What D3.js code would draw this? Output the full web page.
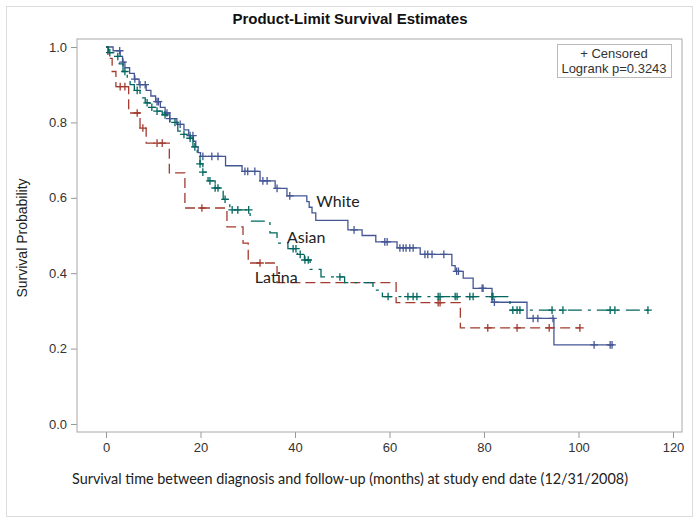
<!DOCTYPE html>
<html>
<head>
<meta charset="utf-8">
<script src="https://cdn.jsdelivr.net/npm/d3@7"></script>
<style>
  body { margin: 0; background: #fff; }
  svg text { fill: #333; }
</style>
</head>
<body>
<svg id="chart" width="700" height="524"></svg>
<script>
// ---- data (months, survival probability) ----
const whiteSteps = [
  [0, 1.0], [1.5, 0.99], [3, 0.975], [3.5, 0.96], [4, 0.945], [5, 0.93], [6, 0.915],
  [7, 0.9], [8.5, 0.885], [9.5, 0.87], [10.5, 0.855], [11.5, 0.84], [12.5, 0.825],
  [13.5, 0.81], [15, 0.795], [16.5, 0.78], [17.5, 0.765], [18.5, 0.75], [19, 0.735],
  [19.5, 0.72], [20, 0.71], [25.3, 0.685], [28.8, 0.67], [32.6, 0.645], [35.8, 0.625],
  [38.3, 0.605], [42.5, 0.59], [43, 0.575], [43.6, 0.56], [44.4, 0.54], [51.2, 0.515],
  [54.2, 0.5], [57.1, 0.483], [61.6, 0.467], [66.5, 0.45], [73.2, 0.42], [73.9, 0.405],
  [75.6, 0.387], [77.7, 0.36], [81.7, 0.323], [89.1, 0.28], [94.8, 0.21]
];
const whiteCensored = [
  2.9, 3.6, 6.1, 7.2, 8.3, 10.8, 11.1, 12.9, 13.5, 15.7, 17.8, 18.4, 20.5, 22.4, 23.7,
  29.4, 30, 31.5, 33.2, 34.1, 36.2, 38.9, 52.5, 59, 59.5, 62.2, 62.9, 63.5, 64.3, 65,
  67.5, 68.1, 69, 71.5, 74.2, 74.6, 79.6, 79.8, 82.2, 90.4, 91.4, 94.6, 103.3, 106.7, 107.1
];

const asianSteps = [
  [0, 1.0], [0.5, 0.985], [1.9, 0.975], [2.8, 0.955], [3.6, 0.935], [4.5, 0.915],
  [5.1, 0.9], [6, 0.885], [7.2, 0.865], [8.3, 0.852], [9.3, 0.84], [10.5, 0.83],
  [11.9, 0.82], [13.5, 0.8], [15.2, 0.777], [16.2, 0.768], [17.1, 0.758], [18.4, 0.735],
  [19.3, 0.71], [19.9, 0.69], [20.5, 0.668], [21.6, 0.645], [23.1, 0.626], [24.8, 0.596],
  [26.2, 0.568], [30.5, 0.538], [34.7, 0.507], [36.2, 0.48], [38.5, 0.465], [40.5, 0.45],
  [42, 0.435], [43.2, 0.41], [45.5, 0.39], [50.5, 0.375], [56.5, 0.355], [58.5, 0.338],
  [85.5, 0.302]
];
const asianCensored = [
  0.8, 2.5, 4, 6.6, 8.7, 9.7, 10.8, 12.5, 14.6, 16.5, 17.8, 18.8, 19.9, 20.5, 22, 23.1,
  23.7, 25.2, 26.7, 27.9, 30.2, 39.6, 40.2, 41.1, 42.1, 42.8, 49.5, 59.7, 63.9, 65, 65.8,
  70.3, 70.7, 73.9, 74.3, 77, 77.7, 81.7, 81.9, 86.1, 87, 87.6, 94.4, 96.7, 106.7, 107.7, 114.7
];

const latinaSteps = [
  [0, 1.0], [0.4, 0.97], [1.3, 0.935], [2.1, 0.895], [4.8, 0.825], [7.2, 0.785],
  [8.5, 0.745], [13.4, 0.666], [16.7, 0.573], [25.6, 0.523], [29, 0.48], [30.1, 0.427],
  [36.2, 0.375], [61.4, 0.322], [75, 0.255]
];
const latinaCensored = [3, 4, 6.6, 7.8, 10.8, 11.9, 20.3, 32.6, 70.3, 70.7, 80.8, 87, 93.8, 100.3];

const xTicks = [0, 20, 40, 60, 80, 100, 120];
const yTicks = [0.0, 0.2, 0.4, 0.6, 0.8, 1.0];

const groups = [
  { name: 'White',  steps: whiteSteps,  censored: whiteCensored,  color: '#445694', dash: null,
    label: [44.5, 0.576] },
  { name: 'Latina', steps: latinaSteps, censored: latinaCensored, color: '#A23A2E', dash: '10,5',
    label: [31.5, 0.374] },
  { name: 'Asian',  steps: asianSteps,  censored: asianCensored,  color: '#01665E', dash: '14,6,3,6',
    label: [38.3, 0.48] }
];

// ---- layout ----
const svg = d3.select('#chart');
const frame = { left: 77, right: 682, top: 39, bottom: 432 };

const x = d3.scaleLinear().domain([0, 120]).range([106, 673]);
const y = d3.scaleLinear().domain([0, 1]).range([424, 47]);

svg.append('rect')
  .attr('x', 6.5).attr('y', 6.5).attr('width', 686).attr('height', 510)
  .attr('fill', 'none').attr('stroke', '#dcdcdc');

svg.append('text')
  .attr('x', 350).attr('y', 24)
  .attr('text-anchor', 'middle')
  .style('font', 'bold 15px "Liberation Sans", Arial, sans-serif')
  .style('fill', '#111')
  .text('Product-Limit Survival Estimates');

// axes
const xAxis = svg.append('g')
  .attr('transform', `translate(0, ${frame.bottom})`)
  .call(d3.axisBottom(x).tickValues(xTicks).tickSize(6).tickSizeOuter(0).tickPadding(5));
const yAxis = svg.append('g')
  .attr('transform', `translate(${frame.left}, 0)`)
  .call(d3.axisLeft(y).tickValues(yTicks).tickFormat(d3.format('.1f')).tickSize(6).tickSizeOuter(0).tickPadding(4));

[xAxis, yAxis].forEach(g => {
  g.select('.domain').remove();
  g.selectAll('line').attr('stroke', '#999');
  g.selectAll('text')
    .style('font', '13px "Liberation Sans", Arial, sans-serif')
    .style('fill', '#333');
});

svg.append('rect')
  .attr('x', frame.left).attr('y', frame.top)
  .attr('width', frame.right - frame.left).attr('height', frame.bottom - frame.top)
  .attr('fill', 'none').attr('stroke', '#a8a8a8');

svg.append('text')
  .attr('x', 350).attr('y', 484)
  .attr('text-anchor', 'middle')
  .style('font', '14.4px Lato, "Open Sans", sans-serif')
  .style('fill', '#222')
  .text('Survival time between diagnosis and follow-up (months) at study end date (12/31/2008)');

svg.append('text')
  .attr('transform', 'translate(27, 238) rotate(-90)')
  .attr('text-anchor', 'middle')
  .style('font', '14px "Liberation Sans", Arial, sans-serif')
  .style('fill', '#222')
  .text('Survival Probability');

// ---- curves ----
const line = d3.line()
  .x(d => x(d[0]))
  .y(d => y(d[1]))
  .curve(d3.curveStepAfter);

const survAt = (steps, t) => {
  let s = steps[0][1];
  steps.forEach(d => { if (d[0] <= t) s = d[1]; });
  return s;
};

const plot = svg.append('g');

groups.forEach(g => {
  const end = Math.max(d3.max(g.censored), d3.max(g.steps, d => d[0]));
  const pts = g.steps.concat([[end, g.steps[g.steps.length - 1][1]]]);

  plot.append('path')
    .datum(pts)
    .attr('d', line)
    .attr('fill', 'none')
    .attr('stroke', g.color)
    .attr('stroke-width', 1.3)
    .attr('stroke-dasharray', g.dash);

  plot.append('g')
    .selectAll('path')
    .data(g.censored)
    .enter().append('path')
    .attr('transform', d => `translate(${x(d)}, ${y(survAt(g.steps, d))})`)
    .attr('d', 'M-3.8,0H3.8M0,-3.8V3.8')
    .attr('stroke', g.color)
    .attr('stroke-width', 1.3);
});

// group labels
plot.selectAll('text.grp')
  .data(groups)
  .enter().append('text')
  .attr('class', 'grp')
  .attr('x', d => x(d.label[0]))
  .attr('y', d => y(d.label[1]))
  .style('font', '16px Lato, "Open Sans", sans-serif')
  .style('fill', '#222')
  .text(d => d.name);

// legend box
const legend = svg.append('g');
legend.append('rect')
  .attr('x', 557.5).attr('y', 44.5).attr('width', 114).attr('height', 33)
  .attr('fill', '#fff').attr('stroke', '#bbb');
legend.append('text')
  .attr('x', 614).attr('y', 58)
  .attr('text-anchor', 'middle')
  .style('font', '13px "Liberation Sans", Arial, sans-serif')
  .text('+ Censored');
legend.append('text')
  .attr('x', 614).attr('y', 73)
  .attr('text-anchor', 'middle')
  .style('font', '13px "Liberation Sans", Arial, sans-serif')
  .text('Logrank p=0.3243');
</script>
</body>
</html>
